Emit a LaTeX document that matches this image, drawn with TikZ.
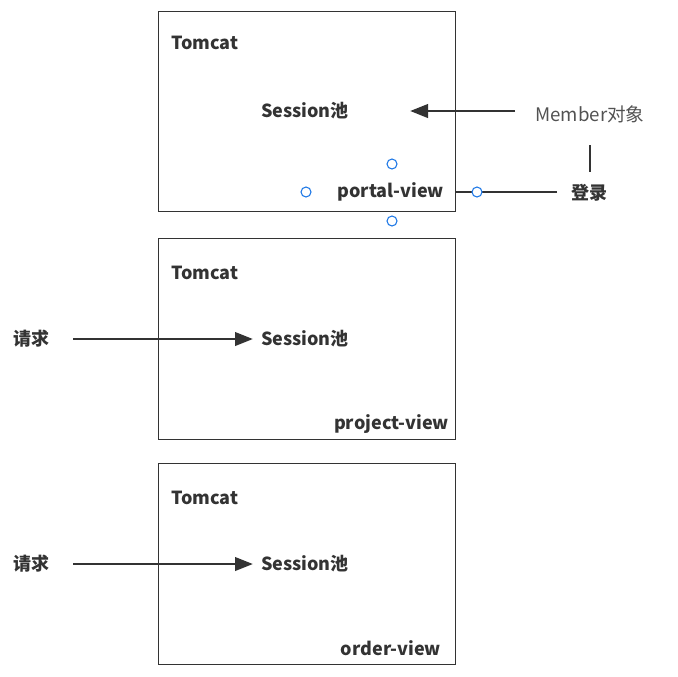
\documentclass[tikz,border=0pt]{standalone}
\usepackage{fontspec}
\setmainfont{Noto Sans CJK SC}
\usetikzlibrary{arrows.meta}
\definecolor{ink}{HTML}{333333}
\definecolor{handle}{HTML}{1E78E6}
\tikzset{
  box/.style={draw=ink, line width=0.9pt},
  label/.style={text=ink, font=\fontsize{13.5}{16}\selectfont\bfseries, inner sep=0pt},
  plain/.style={text=ink!85, font=\fontsize{14}{16}\selectfont, inner sep=0pt},
  link/.style={draw=ink, line width=2.2pt, -{Triangle[length=13.5pt,width=10pt]}},
  bar/.style={draw=ink, line width=2.2pt},
  knob/.style={draw=handle, line width=0.8pt, fill=white}
}
\begin{document}
\begin{tikzpicture}[x=0.75pt,y=-0.75pt]
\useasboundingbox (0,0) rectangle (678,676);
% the three tomcat boxes
\draw [box] (158.5,11.5) rectangle (455.5,211.5);
\draw [box] (158.5,238.5) rectangle (455.5,439.5);
\draw [box] (158.5,463.5) rectangle (455.5,664.5);
\node [label, anchor=west] (tomA) at (171,43) {Tomcat};
\node [label, anchor=west] (tomB) at (171,273) {Tomcat};
\node [label, anchor=west] (tomC) at (171,498) {Tomcat};
\node [label] (sessA) at (305,111) {Session池};
\node [label] (sessB) at (305,339) {Session池};
\node [label] (sessC) at (305,564) {Session池};
\node [label, anchor=east] (portal) at (444,192) {portal-view};
\node [label, anchor=east] (project) at (449,424) {project-view};
\node [label, anchor=east] (order) at (441,648) {order-view};
% login side
\node [plain] (member) at (590,114) {Member对象};
\node [label] (login) at (589,193) {登录};
\coordinate (memStart) at (515,111);
\coordinate (memTip) at (410,111);
\draw [link] (memStart) -- (memTip);
\draw [bar] (590,145) -- (590,172);
\coordinate (loginEnd) at (557,192);
\coordinate (portalEnd) at (456,192);
\draw [bar] (loginEnd) -- (portalEnd);
% requests
\node [label] (reqB) at (31,339) {请求};
\node [label] (reqC) at (31,564) {请求};
\coordinate (reqBTip) at (253,339);
\coordinate (reqCTip) at (253,564);
\draw [link] (73,339) -- (reqBTip);
\draw [link] (73,564) -- (reqCTip);
% selection handles
\foreach \px/\py in {392/164, 306/192, 392/221, 477/192}
  \draw [knob] (\px,\py) circle (5);
\end{tikzpicture}
\end{document}
